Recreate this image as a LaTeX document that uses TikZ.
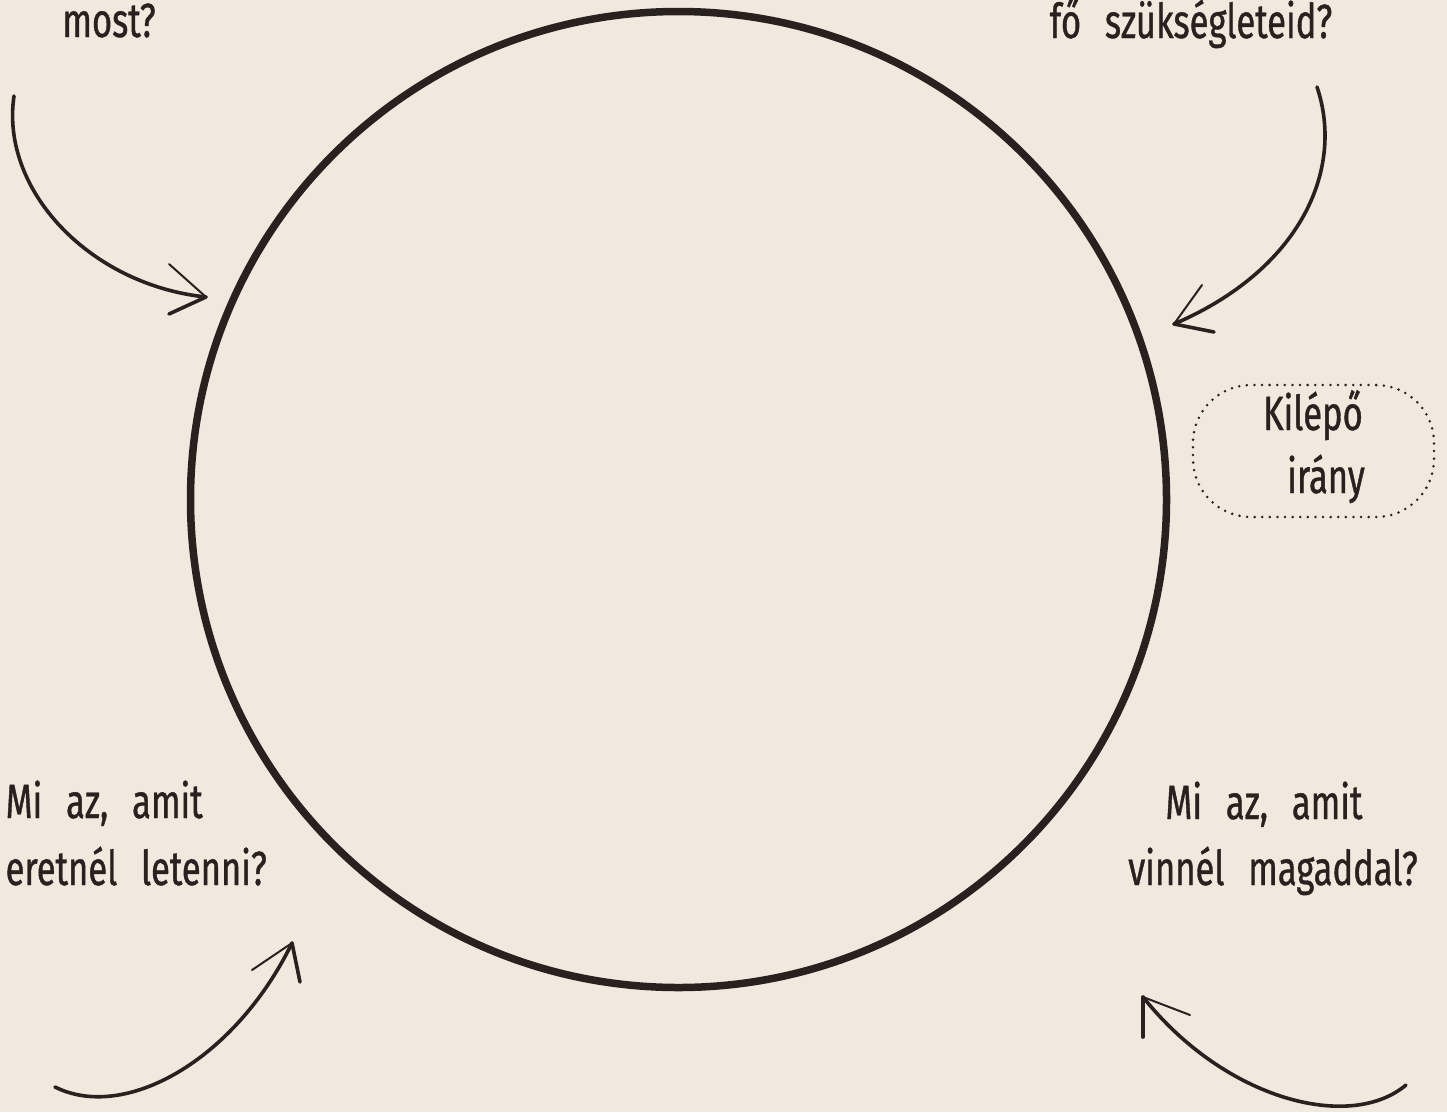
\documentclass[tikz,border=0pt]{standalone}
\usepackage{fontspec}
\newfontfamily\handfont[FakeStretch=0.72,WordSpace=2.6,FakeBold=0.8]{Fira Sans}
\definecolor{bgbeige}{RGB}{241,233,221}
\definecolor{ink}{RGB}{40,33,31}
\begin{document}
\begin{tikzpicture}[x=1pt,y=-1pt,
  lbl/.style={text=ink,font=\handfont\fontsize{48}{60}\selectfont,inner sep=0pt},
  sketch/.style={draw=ink,line width=3.6pt,line cap=round,line join=round},
  barb/.style={draw=ink,line width=2pt,line cap=round}]
\fill[bgbeige] (0,0) rectangle (1447,1112);
\useasboundingbox (0,0) rectangle (1447,1112);
\clip (0,0) rectangle (1447,1112);
% big circle
\node[circle,draw=ink,line width=7.5pt,minimum size=976pt,inner sep=0pt] (circ) at (678.5,499.5) {};
% texts
\node[lbl,anchor=base] (tl) at (109,37) {most?};
\node[lbl,anchor=base] (tr) at (1191,38) {fő szükségleteid?};
\node[lbl,anchor=base] (ex1) at (1313,430) {Kilépő};
\node[lbl,anchor=base] (ex2) at (1326,493) {irány};
\node[lbl,anchor=base east] (bl1) at (203,818) {Mi az, amit};
\node[lbl,anchor=base east] (bl2) at (267,885) {eretnél letenni?};
\node[lbl,anchor=base] (br1) at (1264,819) {Mi az, amit};
\node[lbl,anchor=base] (br2) at (1273,885) {vinnél magaddal?};
% dotted exit box
\node[draw=ink,line width=2.8pt,dash pattern=on 0pt off 7.6pt,line cap=round,
      rounded corners=58pt,minimum width=241pt,minimum height=132pt,inner sep=0pt]
      (exitbox) at (1313.5,451) {};
% arrow coordinates
\coordinate (a1s) at (14,96);   \coordinate (a1t) at (206,297);
\coordinate (a2s) at (1317,87); \coordinate (a2t) at (1174,324);
\coordinate (a3s) at (55,1087); \coordinate (a3t) at (292,943);
\coordinate (a4s) at (1406,1085); \coordinate (a4t) at (1143,997);
% arrow 1 (top left)
\draw[sketch] (a1s) .. controls (0,190) and (90,285) .. (a1t);
\draw[barb] (a1t) -- (169,264);
\draw[sketch] (a1t) -- (169,314);
% arrow 2 (top right)
\draw[sketch] (a2s) .. controls (1345,170) and (1300,270) .. (a2t);
\draw[barb] (a2t) -- (1202,285);
\draw[sketch] (a2t) -- (1214,332);
% arrow 3 (bottom left)
\draw[sketch] (a3s) .. controls (125,1122) and (235,1060) .. (a3t);
\draw[barb] (a3t) -- (252,970);
\draw[sketch] (a3t) -- (300,982);
% arrow 4 (bottom right)
\draw[sketch] (a4s) .. controls (1350,1132) and (1225,1100) .. (a4t);
\draw[barb] (a4t) -- (1190,1015);
\draw[sketch] (a4t) -- (1143,1037);
\end{tikzpicture}
\end{document}
